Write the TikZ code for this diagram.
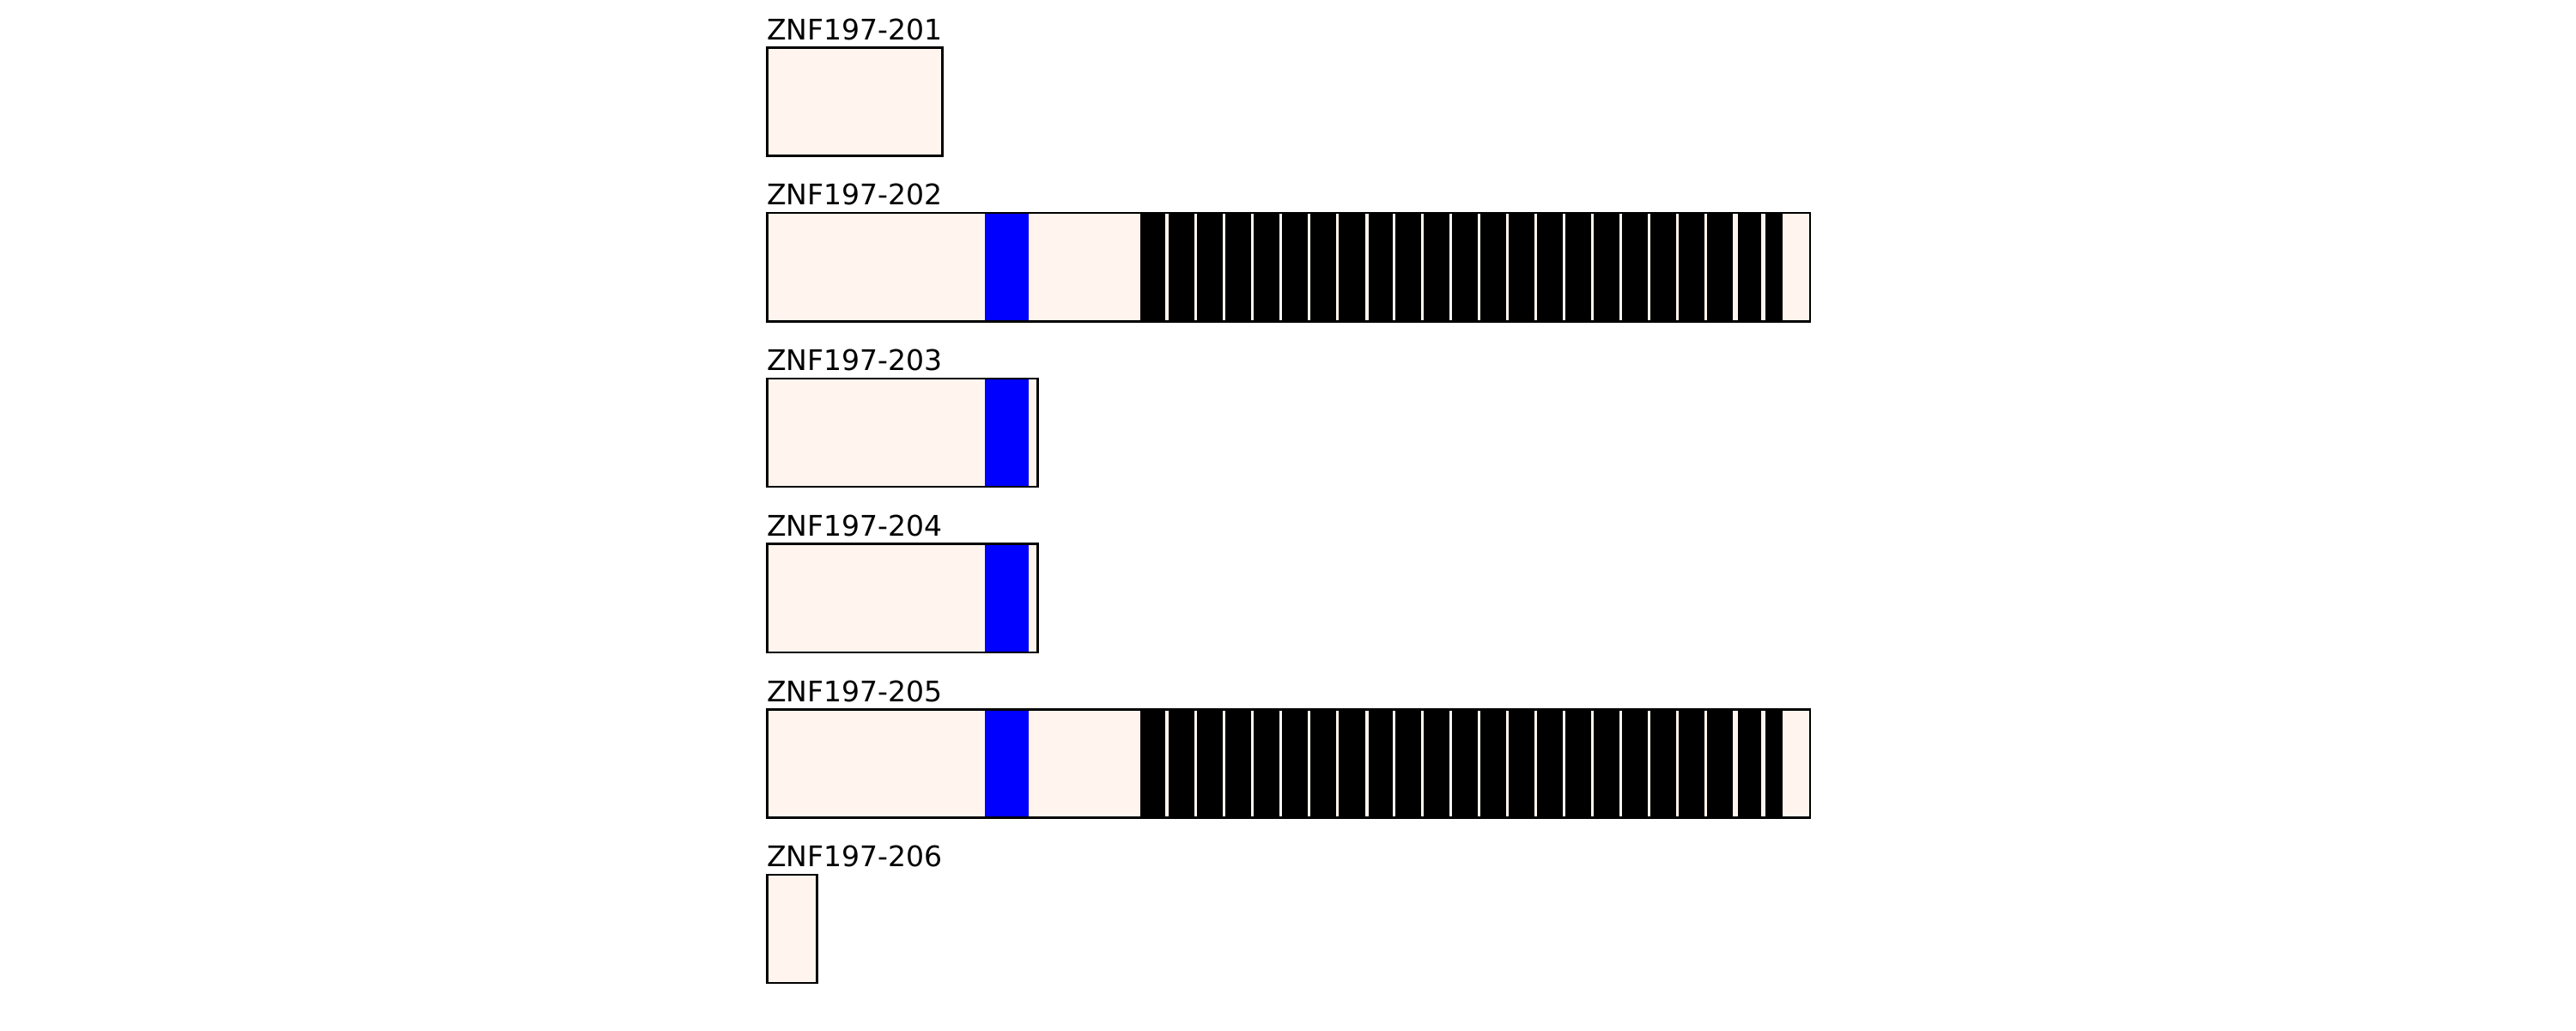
\documentclass[tikz,border=0pt]{standalone}
\usepackage{fontspec}
\setmainfont{DejaVu Sans}
\usetikzlibrary{positioning}

\definecolor{exonfill}{RGB}{255,245,238}
\newcommand\RowGap{1.927}
\newcommand\BoxH{1.262}
\newcommand\LeftX{8.933}

\tikzset{
  exon/.style={
    fill = exonfill
  },
  exonline/.style={
    draw = black,
    line width = 0.7pt
  },
  krab/.style={
    fill = blue
  },
  znf/.style={
    fill = black,
    draw = black,
    line width = 0.4pt
  },
  tname/.style={
    anchor = base west,
    inner sep = 0pt,
    font = \fontsize{9.4}{11}\selectfont
  }
}

\begin{document}
\begin{tikzpicture}
    \useasboundingbox (0,0) rectangle (30,12);

    % transcript names
    \node[tname] (n201) at (8.925, 11.538) {ZNF197-201};
    \node[tname] (n202) at (8.925, 11.538-1*\RowGap) {ZNF197-202};
    \node[tname] (n203) at (8.925, 11.538-2*\RowGap) {ZNF197-203};
    \node[tname] (n204) at (8.925, 11.538-3*\RowGap) {ZNF197-204};
    \node[tname] (n205) at (8.925, 11.538-4*\RowGap) {ZNF197-205};
    \node[tname] (n206) at (8.925, 11.538-5*\RowGap) {ZNF197-206};

    % ZNF197-201
    \fill[exon] (\LeftX, 11.445) rectangle ++(2.042, -\BoxH);
    \draw[exonline] (\LeftX, 11.445) rectangle ++(2.042, -\BoxH);

    % ZNF197-202 and ZNF197-205
    \foreach \r in {1,4} {
      \fill[exon] (\LeftX, 11.445-\r*\RowGap) rectangle ++(12.147, -\BoxH);
      \fill[krab] (11.473, 11.445-\r*\RowGap) rectangle ++(0.504, -\BoxH);
      \foreach \a/\b in {13.283/13.567, 13.62/13.90, 13.95/14.23, 14.28/14.567,
                         14.61/14.89, 14.94/15.227, 15.27/15.557, 15.60/15.89,
                         15.95/16.217, 16.26/16.547, 16.59/16.877, 16.92/17.207,
                         17.25/17.53, 17.58/17.867, 17.91/18.19, 18.24/18.527,
                         18.57/18.857, 18.90/19.187, 19.23/19.517, 19.56/19.84,
                         19.89/20.177, 20.25/20.507, 20.57/20.757}
        \filldraw[znf] (\a, 11.445-\r*\RowGap) rectangle (\b, 11.445-\r*\RowGap-\BoxH);
      \draw[exonline] (\LeftX, 11.445-\r*\RowGap) rectangle ++(12.147, -\BoxH);
    }

    % ZNF197-203 and ZNF197-204
    \foreach \r in {2,3} {
      \fill[exon] (\LeftX, 11.445-\r*\RowGap) rectangle ++(3.154, -\BoxH);
      \fill[krab] (11.473, 11.445-\r*\RowGap) rectangle ++(0.504, -\BoxH);
      \draw[exonline] (\LeftX, 11.445-\r*\RowGap) rectangle ++(3.154, -\BoxH);
    }

    % ZNF197-206
    \fill[exon] (\LeftX, 11.445-5*\RowGap) rectangle ++(0.584, -\BoxH);
    \draw[exonline] (\LeftX, 11.445-5*\RowGap) rectangle ++(0.584, -\BoxH);
\end{tikzpicture}
\end{document}
